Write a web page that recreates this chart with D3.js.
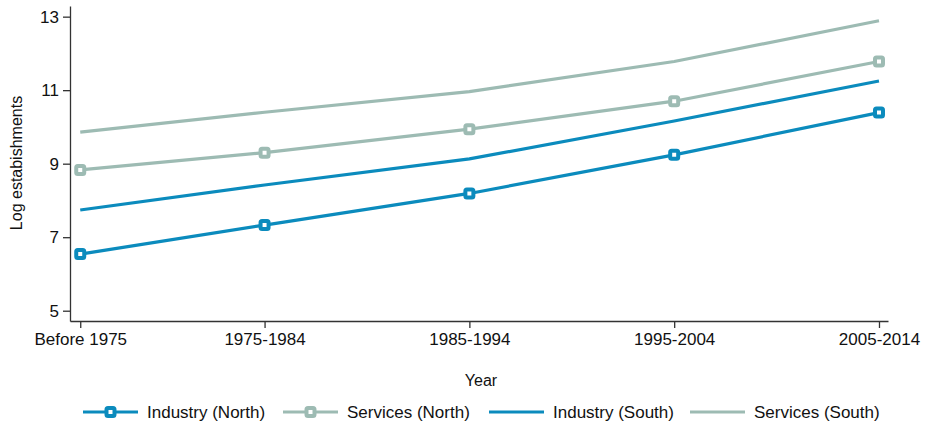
<!DOCTYPE html>
<html>
<head>
<meta charset="utf-8">
<script src="https://cdn.jsdelivr.net/npm/d3@7"></script>
<style>
  body { margin: 0; background: #fff; }
  svg text { font-family: "Liberation Sans", Arial, sans-serif; fill: #111; }
</style>
</head>
<body>
<div id="chart"></div>
<script>
// periods, placed on a year axis (first period is earlier and shorter)
const periods = ["Before 1975", "1975-1984", "1985-1994", "1995-2004", "2005-2014"];
const periodYears = [1971, 1980, 1990, 2000, 2010];

const industryNorth = [6.54, 7.33, 8.19, 9.24, 10.39];
const servicesNorth = [8.83, 9.30, 9.94, 10.70, 11.78];
const industrySouth = [7.74, 8.42, 9.13, 10.16, 11.25];
const servicesSouth = [9.86, 10.40, 10.96, 11.78, 12.89];

const yTicks = [5, 7, 9, 11, 13];

const blue = "#0b8bbd", sage = "#9dbbb3";

const series = [
  { name: "Industry (North)", values: industryNorth, color: blue, marker: true },
  { name: "Services (North)", values: servicesNorth, color: sage, marker: true },
  { name: "Industry (South)", values: industrySouth, color: blue, marker: false },
  { name: "Services (South)", values: servicesSouth, color: sage, marker: false }
];

const W = 929, H = 428;
const svg = d3.select("#chart").append("svg").attr("width", W).attr("height", H);

const x = d3.scaleLinear().domain([1970.5, 2010.44]).range([70, 888]);
const y = d3.scaleLinear().domain([4.72, 13.29]).range([321, 6]);

// axes
const xAxis = svg.append("g")
  .attr("transform", "translate(0,321)")
  .call(d3.axisBottom(x).tickValues(periodYears).tickSize(7).tickSizeOuter(0)
    .tickFormat((d, i) => periods[i]));
xAxis.selectAll("text").attr("font-size", 17).attr("dy", "0.95em").attr("y", 8);

const yAxis = svg.append("g")
  .attr("transform", "translate(70,0)")
  .call(d3.axisLeft(y).tickValues(yTicks).tickSize(7).tickSizeOuter(0));
yAxis.selectAll("text").attr("font-size", 17).attr("x", -11);

svg.selectAll(".domain, .tick line").attr("stroke", "#333").attr("stroke-width", 1.3);
svg.selectAll(".tick text").attr("fill", "#111").style("font-family", "'Liberation Sans', Arial, sans-serif");

// axis titles
svg.append("text").attr("x", 481).attr("y", 386).attr("text-anchor", "middle")
  .attr("font-size", 16).text("Year");
svg.append("text").attr("transform", "translate(22,163) rotate(-90)")
  .attr("text-anchor", "middle").attr("font-size", 16).text("Log estabishments");

// lines
const line = d3.line().x((d, i) => x(periodYears[i])).y(d => y(d));
function drawMarker(g, cx, cy, color) {
  g.append("rect").attr("x", cx - 4).attr("y", cy - 4).attr("width", 8).attr("height", 8)
    .attr("rx", 1.5).attr("fill", "#fff").attr("stroke", color).attr("stroke-width", 4)
    .attr("stroke-linejoin", "round");
}

series.forEach(s => {
  svg.append("path").datum(s.values)
    .attr("fill", "none").attr("stroke", s.color).attr("stroke-width", 3.2)
    .attr("stroke-linejoin", "round").attr("d", line);
});
series.filter(s => s.marker).forEach(s => {
  const g = svg.append("g");
  s.values.forEach((v, i) => drawMarker(g, x(periodYears[i]), y(v), s.color));
});

// legend
const legendX = [83, 283, 489, 690];
series.forEach((s, i) => {
  const g = svg.append("g").attr("transform", `translate(${legendX[i]},412)`);
  g.append("line").attr("x1", 0).attr("x2", 55).attr("y1", 0).attr("y2", 0)
    .attr("stroke", s.color).attr("stroke-width", 3.2);
  if (s.marker) drawMarker(g, 27.5, 0, s.color);
  g.append("text").attr("x", 64).attr("y", 6).attr("font-size", 17).text(s.name);
});
</script>
</body>
</html>
